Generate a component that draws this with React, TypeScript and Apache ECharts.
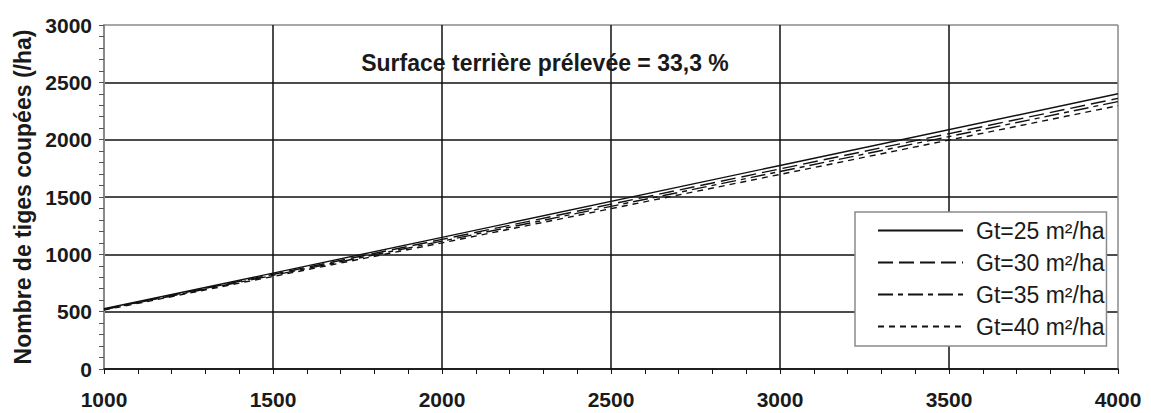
import React, { useEffect, useRef } from "react";
import * as echarts from "echarts";

// Number of stems cut per hectare vs. stand density, for four basal areas
const stemsPerHa = [1000, 2000, 3000, 4000];
const gt25 = [525, 1148, 1775, 2400];
const gt30 = [521, 1130, 1745, 2360];
const gt35 = [518, 1115, 1722, 2332];
const gt40 = [514, 1100, 1697, 2296];
const seriesNames = ["Gt=25 m²/ha", "Gt=30 m²/ha", "Gt=35 m²/ha", "Gt=40 m²/ha"];
const xTicks = [1000, 1500, 2000, 2500, 3000, 3500, 4000];
const yTicks = [0, 500, 1000, 1500, 2000, 2500, 3000];

const FONT = "'Liberation Sans', Arial, sans-serif";

export default function App() {
  const ref = useRef<HTMLDivElement>(null);

  useEffect(() => {
    if (!ref.current) return;
    const chart = echarts.init(ref.current, undefined, { renderer: "svg" });

    const values = [gt25, gt30, gt35, gt40];
    const dashes: any[] = ["solid", [15, 6], [15, 5, 5, 5], [6, 5]];

    const gridColorsX = xTicks.map((_, i) => (i === 0 || i === xTicks.length - 1 ? "#8a8a8a" : "#111"));
    const gridColorsY = yTicks.map((_, i) => (i === yTicks.length - 1 ? "#8a8a8a" : "#111"));

    chart.setOption({
      animation: false,
      backgroundColor: "#fff",
      textStyle: { fontFamily: FONT },
      title: {
        text: "Surface terrière prélevée = 33,3 %",
        left: 540,
        top: 46,
        textAlign: "center",
        textStyle: { fontFamily: FONT, fontWeight: "bold", fontSize: 23, color: "#1a1a1a" },
      },
      grid: { left: 104, right: 33, top: 25, bottom: 44, containLabel: false },
      legend: {
        orient: "vertical",
        left: 855,
        top: 212,
        data: seriesNames,
        align: "left",
        itemWidth: 85,
        itemHeight: 14,
        itemGap: 7,
        padding: [6, 2, 7, 22],
        backgroundColor: "#fff",
        borderColor: "#8a8a8a",
        borderWidth: 1.5,
        borderRadius: 0,
        itemStyle: { color: "rgba(0,0,0,0)", borderWidth: 0, opacity: 0 },
        textStyle: { fontFamily: FONT, fontSize: 23, color: "#1a1a1a", padding: [0, 0, 0, 8], lineHeight: 25 },
      },
      xAxis: {
        type: "value",
        min: 1000,
        max: 4000,
        interval: 500,
        axisLine: { show: true, onZero: false, lineStyle: { color: "#111", width: 1.5 } },
        axisTick: { show: true, inside: false, length: 5, lineStyle: { color: "#111", width: 1 } },
        minorTick: { show: true, splitNumber: 5, length: 5, lineStyle: { color: "#111", width: 1 } },
        splitLine: { show: true, lineStyle: { color: gridColorsX, width: 1.5 } },
        axisLabel: {
          fontFamily: FONT,
          fontWeight: "bold",
          fontSize: 21,
          lineHeight: 21,
          color: "#1a1a1a",
          margin: 20,
          formatter: (v: number) => String(v),
        },
      },
      yAxis: {
        type: "value",
        min: 0,
        max: 3000,
        interval: 500,
        name: "Nombre de tiges coupées (/ha)",
        nameLocation: "middle",
        nameGap: 70,
        nameTextStyle: { fontFamily: FONT, fontWeight: "bold", fontSize: 23, color: "#1a1a1a" },
        axisLine: { show: true, lineStyle: { color: "#8a8a8a", width: 2 } },
        axisTick: { show: true, inside: false, length: 5, lineStyle: { color: "#555", width: 1 } },
        minorTick: { show: true, splitNumber: 5, length: 5, lineStyle: { color: "#555", width: 1 } },
        splitLine: { show: true, lineStyle: { color: gridColorsY, width: 1.5 } },
        axisLabel: {
          fontFamily: FONT,
          fontWeight: "bold",
          fontSize: 21,
          color: "#1a1a1a",
          margin: 12,
          formatter: (v: number) => String(v),
        },
      },
      series: seriesNames.map((name, i) => ({
        name,
        type: "line",
        data: stemsPerHa.map((x, j) => [x, values[i][j]]),
        showSymbol: false,
        symbol: "none",
        lineStyle: { color: "#111", width: 1.4, type: dashes[i] },
        itemStyle: { color: "#111" },
        z: 3,
      })),
    });

    return () => chart.dispose();
  }, []);

  return <div ref={ref} style={{ position: "absolute", left: 0, top: 0, width: 1151, height: 413 }} />;
}
